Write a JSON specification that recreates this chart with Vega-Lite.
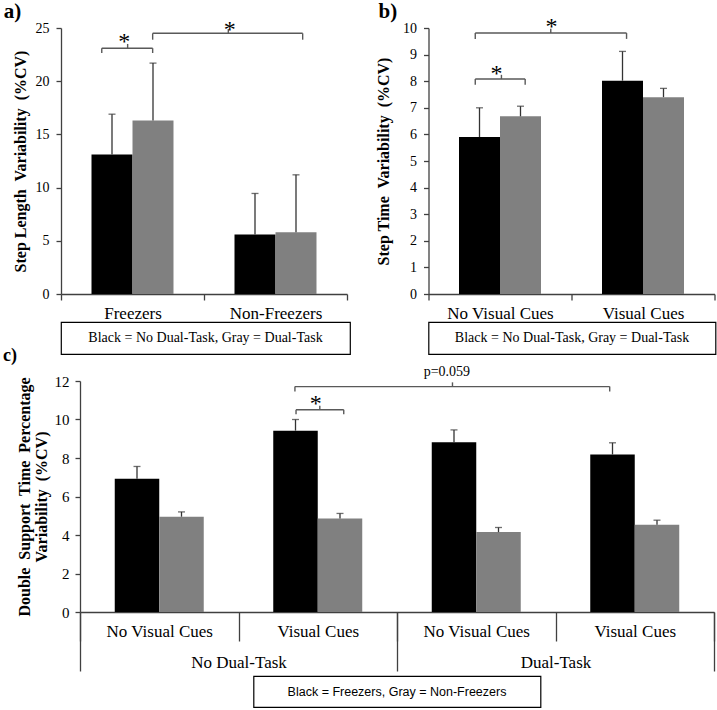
{
  "$schema": "https://vega.github.io/schema/vega-lite/v6.json",
  "background": "white",
  "padding": {"left": 2, "top": 0, "right": 0, "bottom": 0},
  "config": {
    "view": {"stroke": null},
    "font": "Liberation Serif",
    "axis": {"domainColor": "#404040", "tickColor": "#404040", "labelColor": "black", "titleColor": "black", "labelFont": "Liberation Serif", "titleFont": "Liberation Serif", "grid": false, "domainWidth": 1.3, "tickWidth": 1.3}
  },
  "spacing": -9,
  "resolve": {"scale": {"color": "independent", "xOffset": "independent"}},
  "vconcat": [
    {
      "spacing": 24.5,
      "hconcat": [
        {
          "bounds": "flush",
          "spacing": 28,
          "vconcat": [
            {
              "width": 286,
              "height": 266,
              "layer": [
                {
                  "data": {"values": [
                    {"group": "Freezers", "task": "No Dual-Task", "mean": 13.1, "upper": 16.9},
                    {"group": "Freezers", "task": "Dual-Task", "mean": 16.3, "upper": 21.7},
                    {"group": "Non-Freezers", "task": "No Dual-Task", "mean": 5.6, "upper": 9.45},
                    {"group": "Non-Freezers", "task": "Dual-Task", "mean": 5.8, "upper": 11.2}
                  ]},
                  "encoding": {
                    "x": {"field": "group", "type": "nominal", "sort": ["Freezers", "Non-Freezers"], "scale": {"paddingInner": 0, "paddingOuter": 0}, "axis": {"title": null, "labelAngle": 0, "tickBand": "extent", "tickSize": 6, "labelPadding": 5, "labelFontSize": 17}},
                    "xOffset": {"field": "task", "type": "nominal", "sort": ["No Dual-Task", "Dual-Task"], "scale": {"paddingInner": 0, "paddingOuter": 0.744}}
                  },
                  "layer": [
                    {"mark": {"type": "bar"}, "encoding": {
                      "y": {"field": "mean", "type": "quantitative", "scale": {"domain": [0, 25], "nice": false}, "axis": {"title": "Step Length\u00a0 Variability\u00a0 (%CV)", "values": [0, 5, 10, 15, 20, 25], "tickSize": 5, "labelPadding": 7, "labelFontSize": 14, "titleFontSize": 16, "titleFontWeight": "bold", "titlePadding": 7}},
                      "color": {"field": "task", "type": "nominal", "sort": ["No Dual-Task", "Dual-Task"], "scale": {"domain": ["No Dual-Task", "Dual-Task"], "range": ["#000000", "#808080"]}, "legend": null}}},
                    {"mark": {"type": "rule", "color": "#333333", "strokeWidth": 1.3}, "encoding": {"y": {"field": "mean", "type": "quantitative", "axis": {"title": "Step Length\u00a0 Variability\u00a0 (%CV)", "values": [0, 5, 10, 15, 20, 25], "tickSize": 5, "labelPadding": 7, "labelFontSize": 14, "titleFontSize": 16, "titleFontWeight": "bold", "titlePadding": 7}}, "y2": {"field": "upper"}}},
                    {"mark": {"type": "tick", "color": "#333333", "thickness": 1.3, "size": 7, "orient": "horizontal"}, "encoding": {"y": {"field": "upper", "type": "quantitative", "axis": {"title": "Step Length\u00a0 Variability\u00a0 (%CV)", "values": [0, 5, 10, 15, 20, 25], "tickSize": 5, "labelPadding": 7, "labelFontSize": 14, "titleFontSize": 16, "titleFontWeight": "bold", "titlePadding": 7}}}}
                  ]
                },
                {
                  "data": {"values": [
                    {"x1": 0.285, "x2": 0.641, "y": 23.1, "yend": 22.65, "xm": 0.466, "ytop": 23.5, "sx": 0.443, "ly": 23.0, "label": "*"},
                    {"x1": 0.641, "x2": 1.69, "y": 24.5, "yend": 23.9, "xm": 1.17, "ytop": 24.9, "sx": 1.18, "ly": 24.2, "label": "*"}
                  ]},
                  "encoding": {"y": {"field": "y", "type": "quantitative", "axis": {"title": "Step Length\u00a0 Variability\u00a0 (%CV)", "values": [0, 5, 10, 15, 20, 25], "tickSize": 5, "labelPadding": 7, "labelFontSize": 14, "titleFontSize": 16, "titleFontWeight": "bold", "titlePadding": 7}}},
                  "layer": [
                    {"mark": {"type": "rule", "color": "#595959", "strokeWidth": 1.4}, "encoding": {"x": {"field": "x1", "type": "quantitative", "scale": {"domain": [0, 2], "nice": false, "zero": false}, "axis": null}, "x2": {"field": "x2"}}},
                    {"mark": {"type": "rule", "color": "#595959", "strokeWidth": 1.4}, "encoding": {"x": {"field": "x1", "type": "quantitative", "scale": {"domain": [0, 2], "nice": false, "zero": false}, "axis": null}, "y2": {"field": "yend"}}},
                    {"mark": {"type": "rule", "color": "#595959", "strokeWidth": 1.4}, "encoding": {"x": {"field": "x2", "type": "quantitative", "scale": {"domain": [0, 2], "nice": false, "zero": false}, "axis": null}, "y2": {"field": "yend"}}},
                    {"mark": {"type": "rule", "color": "#595959", "strokeWidth": 1.4}, "encoding": {"x": {"field": "xm", "type": "quantitative", "scale": {"domain": [0, 2], "nice": false, "zero": false}, "axis": null}, "y2": {"field": "ytop"}}},
                    {"mark": {"type": "text", "fontSize": 24, "baseline": "alphabetic", "color": "black"}, "encoding": {"x": {"field": "sx", "type": "quantitative", "scale": {"domain": [0, 2], "nice": false, "zero": false}, "axis": null}, "y": {"field": "ly", "type": "quantitative", "axis": {"title": "Step Length\u00a0 Variability\u00a0 (%CV)", "values": [0, 5, 10, 15, 20, 25], "tickSize": 5, "labelPadding": 7, "labelFontSize": 14, "titleFontSize": 16, "titleFontWeight": "bold", "titlePadding": 7}}, "text": {"field": "label"}}},
                    {"data": {"values": [{"px": -0.4007, "py": 25.95, "t": "a)"}]}, "mark": {"type": "text", "fontSize": 21, "fontWeight": "bold", "align": "left", "baseline": "alphabetic", "color": "black"}, "encoding": {"x": {"field": "px", "type": "quantitative", "scale": {"domain": [0, 2], "nice": false, "zero": false}, "axis": null}, "y": {"field": "py", "type": "quantitative", "axis": {"title": "Step Length\u00a0 Variability\u00a0 (%CV)", "values": [0, 5, 10, 15, 20, 25], "tickSize": 5, "labelPadding": 7, "labelFontSize": 14, "titleFontSize": 16, "titleFontWeight": "bold", "titlePadding": 7}}, "text": {"field": "t"}}}
                  ]
                }
              ],
              "resolve": {"scale": {"x": "independent"}, "axis": {"x": "independent"}}
            },
            {
              "width": 289,
              "height": 32,
              "view": {"stroke": "black", "strokeWidth": 1.2},
              "data": {"values": [{"t": "Black = No Dual-Task, Gray = Dual-Task"}]},
              "mark": {"type": "text", "font": "Liberation Serif", "fontSize": 14, "color": "black"},
              "encoding": {"text": {"field": "t"}}
            }
          ]
        },
        {
          "bounds": "flush",
          "spacing": 28,
          "vconcat": [
            {
              "width": 286,
              "height": 266,
              "layer": [
                {
                  "data": {"values": [
                    {"cue": "No Visual Cues", "task": "No Dual-Task", "mean": 5.9, "upper": 7.0},
                    {"cue": "No Visual Cues", "task": "Dual-Task", "mean": 6.68, "upper": 7.06},
                    {"cue": "Visual Cues", "task": "No Dual-Task", "mean": 8.02, "upper": 9.12},
                    {"cue": "Visual Cues", "task": "Dual-Task", "mean": 7.4, "upper": 7.73}
                  ]},
                  "encoding": {
                    "x": {"field": "cue", "type": "nominal", "sort": ["No Visual Cues", "Visual Cues"], "scale": {"paddingInner": 0, "paddingOuter": 0}, "axis": {"title": null, "labelAngle": 0, "tickBand": "extent", "tickSize": 6, "labelPadding": 5, "labelFontSize": 17}},
                    "xOffset": {"field": "task", "type": "nominal", "sort": ["No Dual-Task", "Dual-Task"], "scale": {"paddingInner": 0, "paddingOuter": 0.744}}
                  },
                  "layer": [
                    {"mark": {"type": "bar"}, "encoding": {
                      "y": {"field": "mean", "type": "quantitative", "scale": {"domain": [0, 10], "nice": false}, "axis": {"title": "Step Time\u00a0 Variability\u00a0 (%CV)", "values": [0, 1, 2, 3, 4, 5, 6, 7, 8, 9, 10], "tickSize": 5, "labelPadding": 7, "labelFontSize": 14, "titleFontSize": 16, "titleFontWeight": "bold", "titlePadding": 11}},
                      "color": {"field": "task", "type": "nominal", "sort": ["No Dual-Task", "Dual-Task"], "scale": {"domain": ["No Dual-Task", "Dual-Task"], "range": ["#000000", "#808080"]}, "legend": null}}},
                    {"mark": {"type": "rule", "color": "#333333", "strokeWidth": 1.3}, "encoding": {"y": {"field": "mean", "type": "quantitative", "axis": {"title": "Step Time\u00a0 Variability\u00a0 (%CV)", "values": [0, 1, 2, 3, 4, 5, 6, 7, 8, 9, 10], "tickSize": 5, "labelPadding": 7, "labelFontSize": 14, "titleFontSize": 16, "titleFontWeight": "bold", "titlePadding": 11}}, "y2": {"field": "upper"}}},
                    {"mark": {"type": "tick", "color": "#333333", "thickness": 1.3, "size": 7, "orient": "horizontal"}, "encoding": {"y": {"field": "upper", "type": "quantitative", "axis": {"title": "Step Time\u00a0 Variability\u00a0 (%CV)", "values": [0, 1, 2, 3, 4, 5, 6, 7, 8, 9, 10], "tickSize": 5, "labelPadding": 7, "labelFontSize": 14, "titleFontSize": 16, "titleFontWeight": "bold", "titlePadding": 11}}}}
                  ]
                },
                {
                  "data": {"values": [
                    {"x1": 0.327, "x2": 0.676, "y": 8.08, "yend": 7.87, "xm": 0.51, "ytop": 8.24, "sx": 0.476, "ly": 8.0, "label": "*"},
                    {"x1": 0.327, "x2": 1.385, "y": 9.81, "yend": 9.59, "xm": 0.855, "ytop": 9.97, "sx": 0.86, "ly": 9.77, "label": "*"}
                  ]},
                  "encoding": {"y": {"field": "y", "type": "quantitative", "axis": {"title": "Step Time\u00a0 Variability\u00a0 (%CV)", "values": [0, 1, 2, 3, 4, 5, 6, 7, 8, 9, 10], "tickSize": 5, "labelPadding": 7, "labelFontSize": 14, "titleFontSize": 16, "titleFontWeight": "bold", "titlePadding": 11}}},
                  "layer": [
                    {"mark": {"type": "rule", "color": "#595959", "strokeWidth": 1.4}, "encoding": {"x": {"field": "x1", "type": "quantitative", "scale": {"domain": [0, 2], "nice": false, "zero": false}, "axis": null}, "x2": {"field": "x2"}}},
                    {"mark": {"type": "rule", "color": "#595959", "strokeWidth": 1.4}, "encoding": {"x": {"field": "x1", "type": "quantitative", "scale": {"domain": [0, 2], "nice": false, "zero": false}, "axis": null}, "y2": {"field": "yend"}}},
                    {"mark": {"type": "rule", "color": "#595959", "strokeWidth": 1.4}, "encoding": {"x": {"field": "x2", "type": "quantitative", "scale": {"domain": [0, 2], "nice": false, "zero": false}, "axis": null}, "y2": {"field": "yend"}}},
                    {"mark": {"type": "rule", "color": "#595959", "strokeWidth": 1.4}, "encoding": {"x": {"field": "xm", "type": "quantitative", "scale": {"domain": [0, 2], "nice": false, "zero": false}, "axis": null}, "y2": {"field": "ytop"}}},
                    {"mark": {"type": "text", "fontSize": 24, "baseline": "alphabetic", "color": "black"}, "encoding": {"x": {"field": "sx", "type": "quantitative", "scale": {"domain": [0, 2], "nice": false, "zero": false}, "axis": null}, "y": {"field": "ly", "type": "quantitative", "axis": {"title": "Step Time\u00a0 Variability\u00a0 (%CV)", "values": [0, 1, 2, 3, 4, 5, 6, 7, 8, 9, 10], "tickSize": 5, "labelPadding": 7, "labelFontSize": 14, "titleFontSize": 16, "titleFontWeight": "bold", "titlePadding": 11}}, "text": {"field": "label"}}},
                    {"data": {"values": [{"px": -0.35, "py": 10.38, "t": "b)"}]}, "mark": {"type": "text", "fontSize": 21, "fontWeight": "bold", "align": "left", "baseline": "alphabetic", "color": "black"}, "encoding": {"x": {"field": "px", "type": "quantitative", "scale": {"domain": [0, 2], "nice": false, "zero": false}, "axis": null}, "y": {"field": "py", "type": "quantitative", "axis": {"title": "Step Time\u00a0 Variability\u00a0 (%CV)", "values": [0, 1, 2, 3, 4, 5, 6, 7, 8, 9, 10], "tickSize": 5, "labelPadding": 7, "labelFontSize": 14, "titleFontSize": 16, "titleFontWeight": "bold", "titlePadding": 11}}, "text": {"field": "t"}}}
                  ]
                }
              ],
              "resolve": {"scale": {"x": "independent"}, "axis": {"x": "independent"}}
            },
            {
              "width": 287,
              "height": 32,
              "view": {"stroke": "black", "strokeWidth": 1.2},
              "data": {"values": [{"t": "Black = No Dual-Task, Gray = Dual-Task"}]},
              "mark": {"type": "text", "font": "Liberation Serif", "fontSize": 14, "color": "black"},
              "encoding": {"text": {"field": "t"}}
            }
          ]
        }
      ]
    },
    {
      "spacing": -60,
      "hconcat": [
        {
          "width": 1,
          "height": 1,
          "data": {"values": [{"t": ""}]},
          "mark": {"type": "text"},
          "encoding": {"text": {"field": "t"}}
        },
        {
          "bounds": "flush",
          "center": true,
          "spacing": 64,
          "vconcat": [
            {
              "width": 634,
              "height": 231,
              "layer": [
                {
                  "data": {"values": [
                    {"cond": "No Dual-Task / No Visual Cues", "task": "No Dual-Task", "cue": "No Visual Cues", "grp": "Freezers", "mean": 6.92, "upper": 7.56},
                    {"cond": "No Dual-Task / No Visual Cues", "task": "No Dual-Task", "cue": "No Visual Cues", "grp": "Non-Freezers", "mean": 4.95, "upper": 5.2},
                    {"cond": "No Dual-Task / Visual Cues", "task": "No Dual-Task", "cue": "Visual Cues", "grp": "Freezers", "mean": 9.42, "upper": 10.0},
                    {"cond": "No Dual-Task / Visual Cues", "task": "No Dual-Task", "cue": "Visual Cues", "grp": "Non-Freezers", "mean": 4.86, "upper": 5.12},
                    {"cond": "Dual-Task / No Visual Cues", "task": "Dual-Task", "cue": "No Visual Cues", "grp": "Freezers", "mean": 8.82, "upper": 9.46},
                    {"cond": "Dual-Task / No Visual Cues", "task": "Dual-Task", "cue": "No Visual Cues", "grp": "Non-Freezers", "mean": 4.15, "upper": 4.39},
                    {"cond": "Dual-Task / Visual Cues", "task": "Dual-Task", "cue": "Visual Cues", "grp": "Freezers", "mean": 8.18, "upper": 8.79},
                    {"cond": "Dual-Task / Visual Cues", "task": "Dual-Task", "cue": "Visual Cues", "grp": "Non-Freezers", "mean": 4.53, "upper": 4.77}
                  ]},
                  "encoding": {
                    "x": {"field": "cond", "type": "nominal", "sort": ["No Dual-Task / No Visual Cues", "No Dual-Task / Visual Cues", "Dual-Task / No Visual Cues", "Dual-Task / Visual Cues"], "scale": {"paddingInner": 0, "paddingOuter": 0}, "axis": {"title": null, "labelAngle": 0, "tickBand": "extent", "tickSize": 29, "labelPadding": -18, "labelFontSize": 17, "labelExpr": "split(datum.label, ' / ')[1]"}},
                    "xOffset": {"field": "grp", "type": "nominal", "sort": ["Freezers", "Non-Freezers"], "scale": {"paddingInner": 0, "paddingOuter": 0.781}}
                  },
                  "layer": [
                    {"mark": {"type": "bar"}, "encoding": {
                      "y": {"field": "mean", "type": "quantitative", "scale": {"domain": [0, 12], "nice": false}, "axis": {"title": ["Double\u00a0 Support\u00a0 Time\u00a0 Percentage", "Variability\u00a0 (%CV)"], "values": [0, 2, 4, 6, 8, 10, 12], "tickSize": 5, "labelPadding": 6, "labelFontSize": 15, "titleFontSize": 16, "titleLineHeight": 17, "titleFontWeight": "bold", "titlePadding": 5}},
                      "color": {"field": "grp", "type": "nominal", "sort": ["Freezers", "Non-Freezers"], "scale": {"domain": ["Freezers", "Non-Freezers"], "range": ["#000000", "#808080"]}, "legend": null}}},
                    {"mark": {"type": "rule", "color": "#333333", "strokeWidth": 1.3}, "encoding": {"y": {"field": "mean", "type": "quantitative", "axis": {"title": ["Double\u00a0 Support\u00a0 Time\u00a0 Percentage", "Variability\u00a0 (%CV)"], "values": [0, 2, 4, 6, 8, 10, 12], "tickSize": 5, "labelPadding": 6, "labelFontSize": 15, "titleFontSize": 16, "titleLineHeight": 17, "titleFontWeight": "bold", "titlePadding": 5}}, "y2": {"field": "upper"}}},
                    {"mark": {"type": "tick", "color": "#333333", "thickness": 1.3, "size": 7, "orient": "horizontal"}, "encoding": {"y": {"field": "upper", "type": "quantitative", "axis": {"title": ["Double\u00a0 Support\u00a0 Time\u00a0 Percentage", "Variability\u00a0 (%CV)"], "values": [0, 2, 4, 6, 8, 10, 12], "tickSize": 5, "labelPadding": 6, "labelFontSize": 15, "titleFontSize": 16, "titleLineHeight": 17, "titleFontWeight": "bold", "titlePadding": 5}}}}
                  ]
                },
                {
                  "data": {"values": [
                    {"task": "No Dual-Task"},
                    {"task": "Dual-Task"}
                  ]},
                  "mark": {"type": "point", "opacity": 0},
                  "encoding": {
                    "x": {"field": "task", "type": "nominal", "sort": ["No Dual-Task", "Dual-Task"], "scale": {"paddingInner": 0, "paddingOuter": 0}, "axis": {"orient": "bottom", "title": null, "labelAngle": 0, "tickBand": "extent", "tickSize": 59, "labelPadding": -17, "labelFontSize": 17, "domain": false}}
                  }
                },
                {
                  "data": {"values": [
                    {"x1": 1.356, "x2": 3.342, "y": 11.71, "yend": 11.45, "xm": 2.35, "ytop": 11.93, "sx": 2.315, "ly": 12.24, "label": "p=0.059"},
                    {"x1": 1.363, "x2": 1.664, "y": 10.51, "yend": 10.27, "xm": 1.513, "ytop": 10.72, "sx": 1.487, "ly": 10.42, "label": "*"}
                  ]},
                  "encoding": {"y": {"field": "y", "type": "quantitative", "axis": {"title": ["Double\u00a0 Support\u00a0 Time\u00a0 Percentage", "Variability\u00a0 (%CV)"], "values": [0, 2, 4, 6, 8, 10, 12], "tickSize": 5, "labelPadding": 6, "labelFontSize": 15, "titleFontSize": 16, "titleLineHeight": 17, "titleFontWeight": "bold", "titlePadding": 5}}},
                  "layer": [
                    {"mark": {"type": "rule", "color": "#595959", "strokeWidth": 1.4}, "encoding": {"x": {"field": "x1", "type": "quantitative", "scale": {"domain": [0, 4], "nice": false, "zero": false}, "axis": null}, "x2": {"field": "x2"}}},
                    {"mark": {"type": "rule", "color": "#595959", "strokeWidth": 1.4}, "encoding": {"x": {"field": "x1", "type": "quantitative", "scale": {"domain": [0, 4], "nice": false, "zero": false}, "axis": null}, "y2": {"field": "yend"}}},
                    {"mark": {"type": "rule", "color": "#595959", "strokeWidth": 1.4}, "encoding": {"x": {"field": "x2", "type": "quantitative", "scale": {"domain": [0, 4], "nice": false, "zero": false}, "axis": null}, "y2": {"field": "yend"}}},
                    {"mark": {"type": "rule", "color": "#595959", "strokeWidth": 1.4}, "encoding": {"x": {"field": "xm", "type": "quantitative", "scale": {"domain": [0, 4], "nice": false, "zero": false}, "axis": null}, "y2": {"field": "ytop"}}},
                    {"transform": [{"filter": "datum.label === '*'"}], "mark": {"type": "text", "fontSize": 24, "baseline": "alphabetic", "color": "black"}, "encoding": {"x": {"field": "sx", "type": "quantitative", "scale": {"domain": [0, 4], "nice": false, "zero": false}, "axis": null}, "y": {"field": "ly", "type": "quantitative", "axis": {"title": ["Double\u00a0 Support\u00a0 Time\u00a0 Percentage", "Variability\u00a0 (%CV)"], "values": [0, 2, 4, 6, 8, 10, 12], "tickSize": 5, "labelPadding": 6, "labelFontSize": 15, "titleFontSize": 16, "titleLineHeight": 17, "titleFontWeight": "bold", "titlePadding": 5}}, "text": {"field": "label"}}},
                    {"transform": [{"filter": "datum.label !== '*'"}], "mark": {"type": "text", "fontSize": 14, "baseline": "alphabetic", "color": "black"}, "encoding": {"x": {"field": "sx", "type": "quantitative", "scale": {"domain": [0, 4], "nice": false, "zero": false}, "axis": null}, "y": {"field": "ly", "type": "quantitative", "axis": {"title": ["Double\u00a0 Support\u00a0 Time\u00a0 Percentage", "Variability\u00a0 (%CV)"], "values": [0, 2, 4, 6, 8, 10, 12], "tickSize": 5, "labelPadding": 6, "labelFontSize": 15, "titleFontSize": 16, "titleLineHeight": 17, "titleFontWeight": "bold", "titlePadding": 5}}, "text": {"field": "label"}}},
                    {"data": {"values": [{"px": -0.486, "py": 13.04, "t": "c)"}]}, "mark": {"type": "text", "fontSize": 18, "fontWeight": "bold", "align": "left", "baseline": "alphabetic", "color": "black"}, "encoding": {"x": {"field": "px", "type": "quantitative", "scale": {"domain": [0, 4], "nice": false, "zero": false}, "axis": null}, "y": {"field": "py", "type": "quantitative", "axis": {"title": ["Double\u00a0 Support\u00a0 Time\u00a0 Percentage", "Variability\u00a0 (%CV)"], "values": [0, 2, 4, 6, 8, 10, 12], "tickSize": 5, "labelPadding": 6, "labelFontSize": 15, "titleFontSize": 16, "titleLineHeight": 17, "titleFontWeight": "bold", "titlePadding": 5}}, "text": {"field": "t"}}}
                  ]
                }
              ],
              "resolve": {"scale": {"x": "independent"}, "axis": {"x": "independent"}}
            },
            {
              "width": 287,
              "height": 31,
              "view": {"stroke": "black", "strokeWidth": 1.2},
              "data": {"values": [{"t": "Black = Freezers, Gray = Non-Freezers"}]},
              "mark": {"type": "text", "font": "Liberation Sans", "fontSize": 12.5, "color": "black"},
              "encoding": {"text": {"field": "t"}}
            }
          ]
        }
      ]
    }
  ]
}
